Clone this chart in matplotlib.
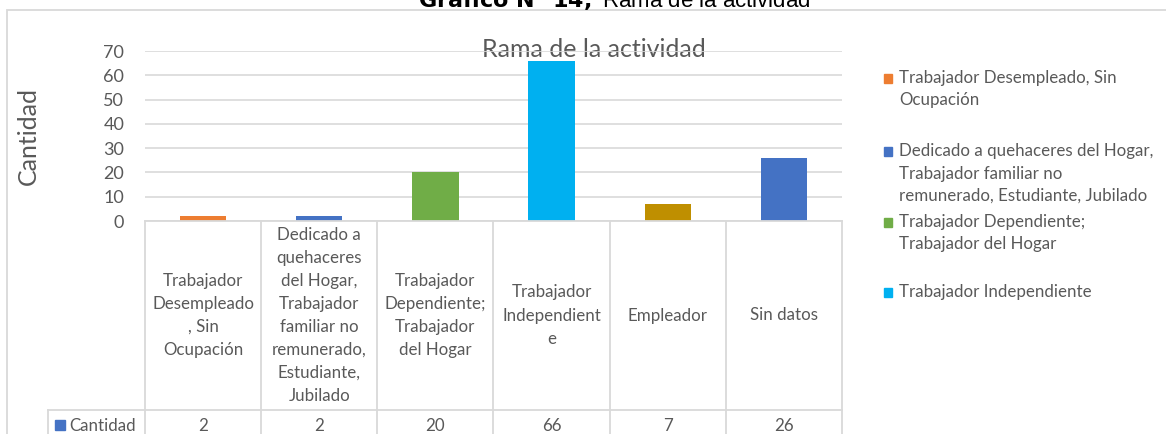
import matplotlib.pyplot as plt
from matplotlib.patches import Rectangle
from matplotlib.lines import Line2D
from matplotlib.transforms import blended_transform_factory

plt.rcParams['font.family'] = ['Lato', 'DejaVu Sans']

categories = ['Trabajador\nDesempleado\n, Sin\nOcupación',
              'Dedicado a\nquehaceres\ndel Hogar,\nTrabajador\nfamiliar no\nremunerado,\nEstudiante,\nJubilado',
              'Trabajador\nDependiente;\nTrabajador\ndel Hogar',
              'Trabajador\nIndependient\ne',
              'Empleador',
              'Sin datos']
values = [2, 2, 20, 66, 7, 26]
colors = ['#ED7D31', '#4472C4', '#70AD47', '#00B0F0', '#BF8F00', '#4472C4']
legend_labels = ['Trabajador Desempleado, Sin\nOcupación',
                 'Dedicado a quehaceres del Hogar,\nTrabajador familiar no\nremunerado, Estudiante, Jubilado',
                 'Trabajador Dependiente;\nTrabajador del Hogar',
                 'Trabajador Independiente']
legend_colors = colors[:4]

W, H = 1166, 434
fig = plt.figure(figsize=(W / 100, H / 100), dpi=100)
grey = '#D9D9D9'
txt = '#595959'


def fy(py):
    # pixel row from top -> figure fraction
    return (H - py) / H


# outer chart border
fig.patches.append(Rectangle((7 / W, -0.1), 1.2, fy(10) + 0.1, transform=fig.transFigure,
                             fill=False, edgecolor=grey, lw=1.3))

ax = fig.add_axes([145 / W, fy(221), 697 / W, 170 / H])
x = range(len(values))
ax.bar(x, values, width=0.4, color=colors, zorder=3)
ax.set_xlim(-0.5, len(values) - 0.5)
ax.set_ylim(0, 70)
ax.set_yticks(range(0, 71, 10))
ax.grid(axis='y', color=grey, lw=1.2, zorder=1)
for s in ax.spines.values():
    s.set_visible(False)
ax.tick_params(axis='y', length=0, labelsize=13, labelcolor=txt, pad=15)
ax.set_xticks([])
ax.set_ylabel('Cantidad', fontsize=18, color=txt, rotation=90, ha='center', va='center')
ax.yaxis.set_label_coords((28 - 145) / 697, 0.5)
# chart title sits under the top gridline, as in the original
ax.text(594 / W, fy(57), 'Rama de la actividad', transform=fig.transFigure, ha='center',
        va='baseline', fontsize=18, color=txt, zorder=0.5)

# data table under the axis
tr = blended_transform_factory(ax.transData, fig.transFigure)
for i in range(len(values) + 1):
    fig.add_artist(Line2D([i - 0.5, i - 0.5], [0, fy(221)], transform=tr, color=grey, lw=1.3))
fig.add_artist(Line2D([-0.5, len(values) - 0.5], [fy(221), fy(221)], transform=tr,
                      color=grey, lw=1.3))
fig.add_artist(Line2D([48 / W, 842 / W], [fy(410), fy(410)], transform=fig.transFigure,
                      color=grey, lw=1.3))
fig.add_artist(Line2D([48 / W, 48 / W], [0, fy(410)], transform=fig.transFigure,
                      color=grey, lw=1.3))
step = 23
for i, (c, v) in enumerate(zip(categories, values)):
    lines = c.split('\n')
    n = len(lines)
    for k, line in enumerate(lines):
        y = 320.5 + (k - (n - 1) / 2) * step
        fig.text(i, fy(y), line, transform=tr, ha='center', va='baseline', fontsize=12.2,
                 color=txt)
    fig.text(i, fy(431), str(v), transform=tr, ha='center', va='baseline', fontsize=12.2,
             color=txt)
fig.patches.append(Rectangle((55 / W, fy(430)), 10 / W, 10 / H, transform=fig.transFigure,
                             color='#4472C4'))
fig.text(69 / W, fy(431), 'Cantidad', ha='left', va='baseline', fontsize=12.2, color=txt)

# legend
leg_y = [83, 156, 227, 297]
for lab, col, y0 in zip(legend_labels, legend_colors, leg_y):
    fig.patches.append(Rectangle((884 / W, fy(y0)), 8 / W, 9 / H,
                                 transform=fig.transFigure, color=col))
    for k, line in enumerate(lab.split('\n')):
        fig.text(899 / W, fy(y0 + k * 22.5), line, ha='left', va='baseline', fontsize=12.2,
                 color=txt)

# page title, cut off at top
fig.text(614 / W, fy(7), r'$\bf{Gráfico\ N°\ 14,}$ Rama de la actividad',
         ha='center', va='baseline', fontsize=16, color='black', family='Liberation Sans')

fig.savefig('out.png', dpi=100)
